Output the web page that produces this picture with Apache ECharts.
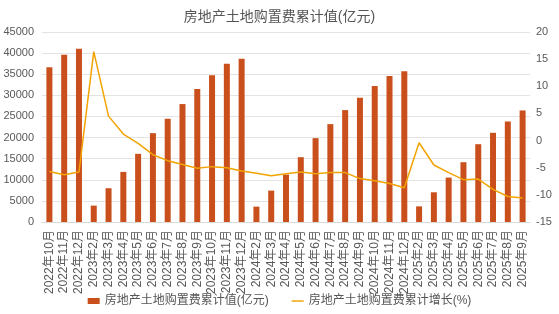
<!DOCTYPE html>
<html><head><meta charset="utf-8">
<script src="https://cdn.jsdelivr.net/npm/echarts@6/dist/echarts.min.js"></script>
<style>html,body{margin:0;padding:0;background:#fff}#c{width:559px;height:314px}</style>
</head><body><div id="c"></div>
<script>
const categories = ['2022年10月','2022年11月','2022年12月','2023年2月','2023年3月','2023年4月','2023年5月','2023年6月','2023年7月','2023年8月','2023年9月','2023年10月','2023年11月','2023年12月','2024年2月','2024年3月','2024年4月','2024年5月','2024年6月','2024年7月','2024年8月','2024年9月','2024年10月','2024年11月','2024年12月','2025年2月','2025年3月','2025年4月','2025年5月','2025年6月','2025年7月','2025年8月','2025年9月'];
const cumValue = [36630,39640,41060,3880,8000,11870,16140,21040,24450,27930,31490,34730,37500,38690,3640,7440,11230,15350,19860,23180,26500,29430,32200,34570,35680,3700,7040,10520,14160,18430,21120,23810,26420];
const cumGrowth = [-5.7,-6.3,-5.8,16.4,4.5,1.2,-0.5,-2.6,-3.7,-4.4,-5.1,-4.8,-5.0,-5.6,-6.0,-6.5,-6.1,-5.8,-6.1,-5.9,-5.9,-7.0,-7.4,-7.9,-8.7,-0.4,-4.5,-5.9,-7.2,-7.1,-9.0,-10.3,-10.6];
const leftTicks = {min:0,max:45000,interval:5000};
const rightTicks = {min:-15,max:20,interval:5};
const FONT = '"Liberation Sans","Noto Sans CJK SC",sans-serif';
const chart = echarts.init(document.getElementById('c'));
chart.setOption({
  animation:false,
  textStyle:{fontFamily:FONT},
  title:{text:'房地产土地购置费累计值(亿元)',left:'center',top:5,textStyle:{fontSize:14,fontWeight:'normal',color:'#555',fontFamily:FONT}},
  legend:{bottom:2,itemGap:23,itemWidth:12,itemHeight:6,textStyle:{fontSize:12,color:'#555',fontFamily:FONT},
    data:[{name:'房地产土地购置费累计值(亿元)',icon:'rect'},{name:'房地产土地购置费累计增长(%)',icon:'path://M0,0 L10,0 L10,1.2 L0,1.2 Z'}]},
  grid:{left:42,right:29,top:32,bottom:92,containLabel:false},
  xAxis:{type:'category',data:categories,axisTick:{show:false},axisLine:{lineStyle:{color:'#d9d9d9'}},
    axisLabel:{rotate:90,interval:0,fontSize:12,color:'#595959',margin:8,fontFamily:FONT}},
  yAxis:[
    {type:'value',min:leftTicks.min,max:leftTicks.max,interval:leftTicks.interval,
     axisLabel:{fontSize:11,color:'#595959',margin:8,fontFamily:FONT,formatter:v=>String(v)},splitLine:{lineStyle:{color:'#e3e3e3'}},axisLine:{show:false},axisTick:{show:false}},
    {type:'value',min:rightTicks.min,max:rightTicks.max,interval:rightTicks.interval,
     axisLabel:{fontSize:11,color:'#595959',margin:6,fontFamily:FONT,formatter:v=>String(v)},splitLine:{show:false},axisLine:{show:false},axisTick:{show:false}}
  ],
  series:[
    {name:'房地产土地购置费累计值(亿元)',type:'bar',data:cumValue,barWidth:6,itemStyle:{color:'#C9501C'}},
    {name:'房地产土地购置费累计增长(%)',type:'line',yAxisIndex:1,data:cumGrowth,symbol:'none',lineStyle:{color:'#F2A300',width:1.5},itemStyle:{color:'#F2A300'}}
  ]
});
</script></body></html>
